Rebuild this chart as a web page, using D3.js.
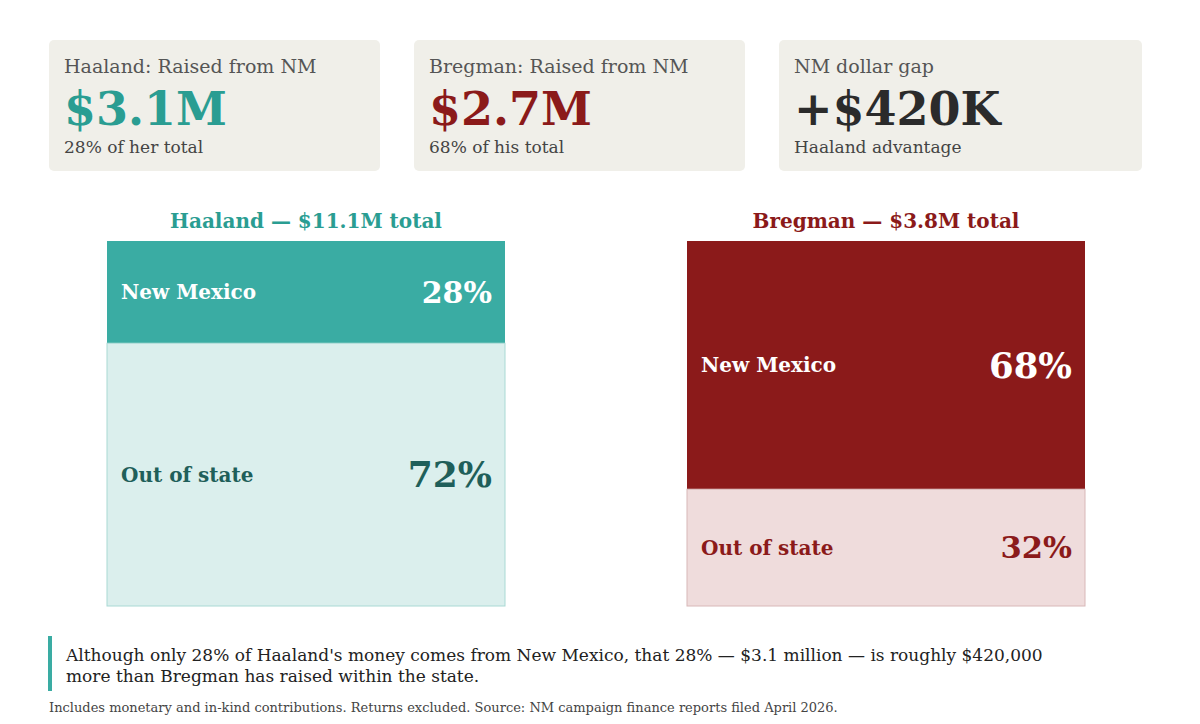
<!DOCTYPE html>
<html><head><meta charset="utf-8">
<script src="https://cdn.jsdelivr.net/npm/d3@7"></script>
<style>body{margin:0;background:#fff}svg{font-family:'DejaVu Serif',serif}</style>
</head><body><div id="chart"></div>
<script>
const cardLabels = ['Haaland: Raised from NM', 'Bregman: Raised from NM', 'NM dollar gap']
const cardValues = ['$3.1M', '$2.7M', '+$420K']
const cardNotes = ['28% of her total', '68% of his total', 'Haaland advantage']
const cardColors = ['#2a9d92', '#8b1a1a', '#2b2b2b']

const candidates = ['Haaland', 'Bregman']
const totals = ['$11.1M', '$3.8M']
const segments = ['New Mexico', 'Out of state']
const nmShare = [28, 68]

const svg = d3.select('#chart').append('svg').attr('width', 1200).attr('height', 724)

// cards
const cardX = [[49, 380], [414, 745], [779, 1142]]
cardLabels.forEach((lab, i) => {
  const g = svg.append('g').attr('transform', 'translate(' + cardX[i][0] + ',40)')
  g.append('rect').attr('width', cardX[i][1] - cardX[i][0]).attr('height', 131).attr('rx', 5).attr('fill', '#f0efe9')
  g.append('text').attr('x', 15).attr('y', 33).attr('font-size', 19).attr('fill', '#555').text(lab)
  g.append('text').attr('x', 15).attr('y', 85).attr('font-size', 46).attr('font-weight', 'bold').attr('fill', cardColors[i]).text(cardValues[i])
  g.append('text').attr('x', 15).attr('y', 113).attr('font-size', 17).attr('fill', '#444').text(cardNotes[i])
})

// stacked bars
const dark = ['#3aaca3', '#8b1a1a']
const light = ['#dbefed', '#efdcdc']
const lightStroke = ['#a9d9d4', '#d8b8b8']
const darkText = ['#1f5f5a', '#8b1a1a']
const xLeft = [107, 687]
const barW = 398
const y = d3.scaleLinear().domain([0, 100]).range([241, 606])
const fontScale = d3.scaleLinear().domain([28, 72]).range([30, 36])

candidates.forEach((c, i) => {
  const g = svg.append('g').attr('transform', 'translate(' + xLeft[i] + ',0)')
  g.append('text').attr('x', barW / 2).attr('y', 228).attr('text-anchor', 'middle')
    .attr('font-size', 20).attr('font-weight', 'bold').attr('fill', dark[i] === '#3aaca3' ? '#2a9d92' : dark[i])
    .text(c + ' — ' + totals[i] + ' total')
  const vals = [nmShare[i], 100 - nmShare[i]]
  const stack = [[0, vals[0]], [vals[0], 100]]
  stack.forEach((s, j) => {
    g.append('rect').attr('x', 0).attr('y', y(s[0])).attr('width', barW).attr('height', y(s[1]) - y(s[0]))
      .attr('fill', j === 0 ? dark[i] : light[i])
      .attr('stroke', j === 0 ? 'none' : lightStroke[i])
    const mid = (y(s[0]) + y(s[1])) / 2
    const col = j === 0 ? '#fff' : darkText[i]
    g.append('text').attr('x', 14).attr('y', mid).attr('dy', '0.35em').attr('font-size', 20)
      .attr('font-weight', 'bold').attr('fill', col).text(segments[j])
    g.append('text').attr('x', barW - 13).attr('y', mid).attr('dy', '0.35em').attr('text-anchor', 'end')
      .attr('font-size', fontScale(vals[j])).attr('font-weight', 'bold').attr('fill', col).text(vals[j] + '%')
  })
})

// note
svg.append('rect').attr('x', 48).attr('y', 636).attr('width', 4).attr('height', 55).attr('fill', '#3aaca3')
svg.append('text').attr('x', 66).attr('y', 661).attr('font-size', 17).attr('fill', '#222')
  .text("Although only 28% of Haaland's money comes from New Mexico, that 28% — $3.1 million — is roughly $420,000")
svg.append('text').attr('x', 66).attr('y', 682).attr('font-size', 17).attr('fill', '#222')
  .text('more than Bregman has raised within the state.')
svg.append('text').attr('x', 49).attr('y', 712).attr('font-size', 13).attr('fill', '#444')
  .text('Includes monetary and in-kind contributions. Returns excluded. Source: NM campaign finance reports filed April 2026.')
</script></body></html>
